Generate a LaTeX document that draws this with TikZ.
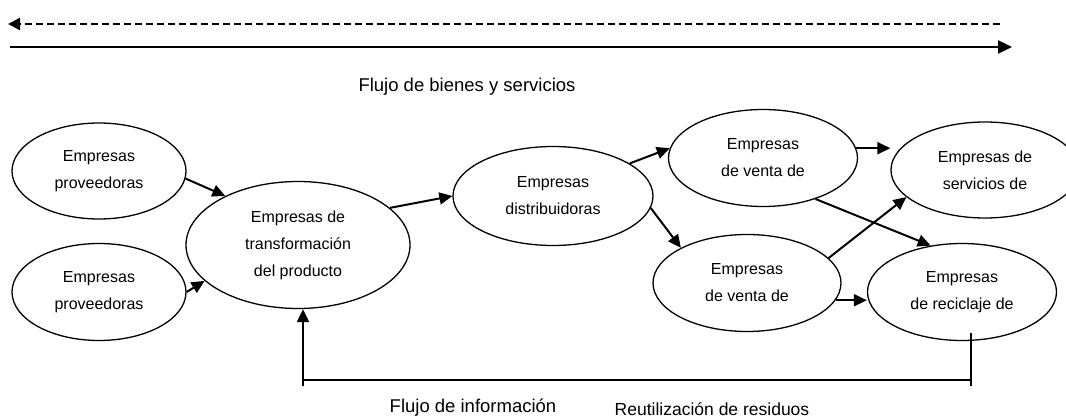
\documentclass[tikz,border=0pt]{standalone}
\usepackage{fontspec}
\setmainfont{Liberation Sans}
\usepackage{tikz}
\usetikzlibrary{arrows.meta, shapes.geometric, positioning}
\tikzset{empresanode/.style={ellipse, draw=black, line width=1.3pt, inner sep=0pt, align=center, font=\fontsize{16}{27}\selectfont},
flujoarrow/.style={line width=2pt, -{Triangle[length=13pt, width=12pt]}},
flujoline/.style={line width=2pt},
etiqueta/.style={anchor=base, inner sep=0pt, font=\fontsize{18.5}{20}\selectfont}}

\begin{document}
\begin{tikzpicture}
        \useasboundingbox (0pt, 0pt) rectangle (1066pt, 418pt);
        % Flows on top
        \draw[line width=2.4pt, dash pattern=on 7pt off 4pt, -{Triangle[length=12pt, width=12pt]}] (1000pt, 394pt) -- (8pt, 394pt);
        \draw[line width=2.4pt, -{Triangle[length=14pt, width=13pt]}] (10pt, 371pt) -- (1012pt, 371pt);
        \node[etiqueta] (bienes) at (467pt, 326pt) {Flujo de bienes y servicios};
        % Companies
        \node[empresanode, minimum width=174pt, minimum height=96pt] (prov1) at (99pt, 247pt) {Empresas\\proveedoras};
        \node[empresanode, minimum width=174pt, minimum height=97pt] (prov2) at (99pt, 126pt) {Empresas\\proveedoras};
        \node[empresanode, minimum width=224pt, minimum height=127pt] (trans) at (298pt, 173pt) {Empresas de\\transformación\\del producto};
        \node[empresanode, minimum width=200pt, minimum height=99pt] (dist) at (553pt, 222pt) {Empresas\\distribuidoras};
        \node[empresanode, minimum width=189pt, minimum height=97pt] (venta1) at (763pt, 260pt) {Empresas\\de venta de};
        \node[empresanode, minimum width=188pt, minimum height=97pt] (venta2) at (747pt, 135pt) {Empresas\\de venta de};
        \node[empresanode, minimum width=188pt, minimum height=96pt] (serv) at (985pt, 248pt) {Empresas de\\servicios de};
        \node[empresanode, minimum width=189pt, minimum height=97pt] (recic) at (962pt, 126pt) {Empresas\\de reciclaje de};
        % Arrows
        \draw[flujoarrow] (prov1.355) -- (trans.146);
        \draw[flujoarrow] (prov2.east) -- (trans.201);
        \draw[flujoarrow] (trans.22) -- (dist.west);
        \draw[flujoarrow] (dist.23) -- (venta1.174);
        \draw[flujoarrow] (dist.353) -- (venta2.152);
        \draw[flujoarrow] (venta1.6) -- (venta1.6 -| serv.west);
        \draw[flujoarrow] (venta1.322) -- (recic.124);
        \draw[flujoarrow] (venta2.17) -- (serv.199);
        \draw[flujoarrow] (venta2.349) -- (venta2.349 -| recic.west);
        % Feedback
        \coordinate (resR) at (971pt, 32pt);
        \coordinate (resL) at (303pt, 32pt);
        \draw[flujoline] ([yshift=8pt]recic.south -| resR) -- (resR);
        \draw[flujoline] ([yshift=6pt]resR) -- ([yshift=6pt]resL);
        \draw[flujoarrow] (resL) -- (trans.south -| resL);
        \node[etiqueta] (info) at (473pt, 6pt) {Flujo de información};
        \node[etiqueta, font=\fontsize{17.5}{20}\selectfont] (residuos) at (712pt, 3pt) {Reutilización de residuos};
    \end{tikzpicture}
\end{document}
